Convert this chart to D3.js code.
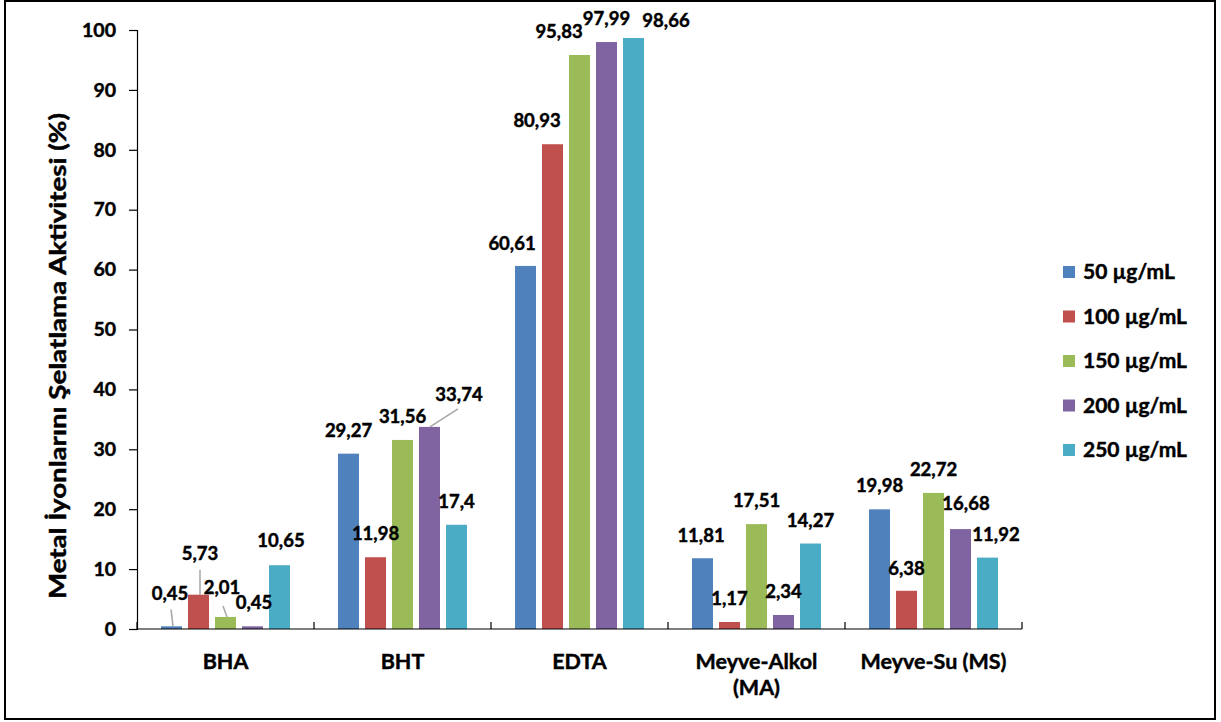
<!DOCTYPE html>
<html>
<head>
<meta charset="utf-8">
<script src="https://cdn.jsdelivr.net/npm/d3@7"></script>
<style>
  html, body { margin: 0; padding: 0; background: #fff; }
  svg { display: block; }
  text { font-family: Lato, "Open Sans", sans-serif; font-weight: 700; fill: #000; stroke: #000; stroke-width: 0.45px; }
</style>
</head>
<body>
<svg id="chart" width="1221" height="722"></svg>
<script>
// Sample groups on the x axis (second line of a label after "\n")
const categories = ["BHA", "BHT", "EDTA", "Meyve-Alkol\n(MA)", "Meyve-Su (MS)"];
const seriesNames = ["50 µg/mL", "100 µg/mL", "150 µg/mL", "200 µg/mL", "250 µg/mL"];

// Chelating activity (%) per concentration, one entry per category
const values50  = [0.45, 29.27, 60.61, 11.81, 19.98];
const values100 = [5.73, 11.98, 80.93, 1.17, 6.38];
const values150 = [2.01, 31.56, 95.83, 17.51, 22.72];
const values200 = [0.45, 33.74, 97.99, 2.34, 16.68];
const values250 = [10.65, 17.4, 98.66, 14.27, 11.92];

const yTicks = [0, 10, 20, 30, 40, 50, 60, 70, 80, 90, 100];
const seriesValues = [values50, values100, values150, values200, values250];
const colors = ["#4F81BD", "#C0504D", "#9BBB59", "#8064A2", "#4BACC6"];

// Hand-placed label nudges (dx, dy from bar top centre) and optional leader lines
// leader: [start dx from label, start dy from label baseline, end dx from bar centre]
const labelNudges = {
  "0-0": { d: [-1.5, -26], leader: [1, 9, 1.5] },
  "0-1": { d: [1.5, -35], leader: [0, 10, 1.5] },
  "0-2": { d: [-3.5, -23], leader: [1, 12, 1.5] },
  "0-3": { d: [1.5, -17] },
  "0-4": { d: [1.5, -18] },
  "1-3": { d: [29.5, -26], leader: [-1, 8, 0.5] },
  "2-0": { d: [-13.5, -16] },
  "2-1": { d: [-15.5, -17] },
  "2-2": { d: [-20.5, -17] },
  "2-4": { d: [32.5, -11] },
  "3-0": { d: [-1.5, -16] },
  "4-1": { d: [0, -16] },
  "4-3": { d: [5.5, -19] },
  "4-4": { d: [8.5, -17] }
};

const svg = d3.select("#chart");

// outer frame
svg.append("rect")
  .attr("x", 5).attr("y", 1).attr("width", 1210).attr("height", 718)
  .attr("fill", "#fff").attr("stroke", "#000").attr("stroke-width", 2);

const plot = { left: 137, right: 1022, top: 30, bottom: 629 };

const x0 = d3.scaleBand().domain(categories).range([plot.left, plot.right]).padding(0);
const x1 = d3.scaleBand().domain(d3.range(seriesNames.length))
  .range([0, x0.bandwidth()]).paddingInner(0.222).paddingOuter(0.889);
const y = d3.scaleLinear().domain([0, 100]).range([plot.bottom, plot.top]);

// y axis
const yAxis = svg.append("g").attr("transform", `translate(${plot.left},0)`)
  .call(d3.axisLeft(y).tickValues(yTicks).tickSize(8).tickPadding(13).tickFormat(d3.format("d")));
yAxis.select(".domain").attr("stroke", "#000").attr("stroke-width", 1.2);
yAxis.selectAll(".tick line").attr("stroke", "#000").attr("stroke-width", 1.2);
yAxis.selectAll(".tick text").attr("font-size", 19.5).attr("font-family", "Lato").attr("font-weight", 700).attr("fill", "#000");

// y axis title
svg.append("text")
  .attr("transform", `translate(66,356) rotate(-90)`)
  .attr("text-anchor", "middle")
  .attr("font-size", 22)
  .attr("textLength", 486)
  .attr("lengthAdjust", "spacingAndGlyphs")
  .text("Metal İyonlarını Şelatlama Aktivitesi (%)");

// bars
const groups = svg.append("g").selectAll("g")
  .data(categories)
  .join("g")
  .attr("transform", d => `translate(${x0(d)},0)`);

groups.selectAll("rect")
  .data((c, ci) => seriesValues.map((vals, si) => ({ ci, si, v: vals[ci] })))
  .join("rect")
  .attr("x", d => x1(d.si))
  .attr("y", d => y(d.v))
  .attr("width", x1.bandwidth())
  .attr("height", d => y(0) - y(d.v))
  .attr("fill", d => colors[d.si]);

// x axis line with inward ticks at category boundaries
const xAxis = svg.append("g").attr("transform", `translate(0,${plot.bottom})`);
xAxis.append("line").attr("x1", plot.left).attr("x2", plot.right)
  .attr("stroke", "#000").attr("stroke-width", 1.2);
const boundaries = categories.map(c => x0(c)).concat([x0(categories[categories.length - 1]) + x0.bandwidth()]);
xAxis.selectAll("line.tick").data(boundaries).join("line")
  .attr("class", "tick")
  .attr("x1", d => d).attr("x2", d => d).attr("y1", 0).attr("y2", -7)
  .attr("stroke", "#000").attr("stroke-width", 1.2);

// category labels
categories.forEach(c => {
  const lines = c.split("\n");
  const t = svg.append("text")
    .attr("x", x0(c) + x0.bandwidth() / 2)
    .attr("y", 669)
    .attr("text-anchor", "middle")
    .attr("font-size", 21.5);
  lines.forEach((ln, i) => {
    t.append("tspan").attr("x", x0(c) + x0.bandwidth() / 2).attr("dy", i === 0 ? 0 : 26).text(ln);
  });
});

// value labels and leader lines
const fmt = v => String(v).replace(".", ",");
const labelLayer = svg.append("g");
seriesValues.forEach((vals, si) => {
  vals.forEach((v, ci) => {
    const cx = x0(categories[ci]) + x1(si) + x1.bandwidth() / 2;
    const top = y(v);
    const nudge = labelNudges[`${ci}-${si}`] || { d: [0, -17] };
    const lx = cx + nudge.d[0];
    const ly = top + nudge.d[1];
    if (nudge.leader) {
      labelLayer.append("line")
        .attr("x1", lx + nudge.leader[0]).attr("y1", ly + nudge.leader[1])
        .attr("x2", cx + nudge.leader[2]).attr("y2", top)
        .attr("stroke", "#a6a6a6").attr("stroke-width", 1.5);
    }
    labelLayer.append("text")
      .attr("x", lx).attr("y", ly)
      .attr("text-anchor", "middle")
      .attr("font-size", 18.5)
      .text(fmt(v));
  });
});

// legend
const legend = svg.append("g").attr("transform", "translate(1063,272)");
seriesNames.forEach((name, i) => {
  const row = legend.append("g").attr("transform", `translate(0,${i * 44.5})`);
  row.append("rect").attr("x", 0).attr("y", -6).attr("width", 12).attr("height", 12).attr("fill", colors[i]);
  row.append("text").attr("x", 20).attr("y", 7).attr("font-size", 21).text(name);
});
</script>
</body>
</html>
